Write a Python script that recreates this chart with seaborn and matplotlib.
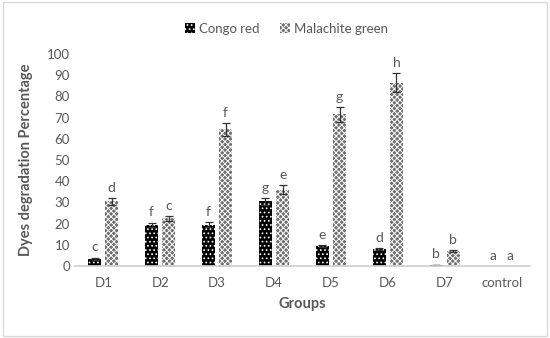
import seaborn as sns
import pandas as pd
import matplotlib.pyplot as plt

# data
groups = ["D1", "D2", "D3", "D4", "D5", "D6", "D7", "control"]
congo_red = [3.5, 19.5, 19.5, 30.5, 9.5, 8.0, 0.5, 0.0]
malachite_green = [30.5, 22.5, 64.5, 36.0, 71.5, 86.5, 7.0, 0.0]
congo_err = [0.5, 1.0, 1.2, 1.5, 0.5, 0.5, 0.2, 0.0]
malachite_err = [1.5, 1.2, 3.0, 2.0, 3.5, 4.5, 0.5, 0.0]
congo_letters = ["c", "f", "f", "g", "e", "d", "b", "a"]
malachite_letters = ["d", "c", "f", "e", "g", "h", "b", "a"]
series = ["Congo red", "Malachite green"]

df = pd.DataFrame({
    "Groups": groups * 2,
    "Dye": [series[0]] * len(groups) + [series[1]] * len(groups),
    "Value": congo_red + malachite_green,
})

sns.set_theme(style="white")
plt.rcParams["font.family"] = ["Lato", "DejaVu Sans"]
plt.rcParams["hatch.linewidth"] = 0.7
grey = "#595959"

fig = plt.figure(figsize=(5.5, 3.38), dpi=100)
ax = fig.add_axes([0.136, 0.213, 0.828, 0.627])

sns.barplot(data=df, x="Groups", y="Value", hue="Dye", order=groups,
            hue_order=series, width=0.6, gap=0.25, palette=["black", "#8c8c8c"],
            errorbar=None, ax=ax, legend=True)

# restyle bars, add error bars and letters
bars = ax.patches[:2 * len(groups)]
errs = congo_err + malachite_err
letters = congo_letters + malachite_letters
vals = congo_red + malachite_green
for i, p in enumerate(bars):
    cx = p.get_x() + p.get_width() / 2
    if i < len(groups):
        p.set_facecolor("black")
        p.set_edgecolor("white")
        p.set_hatch("....")
    else:
        p.set_facecolor("#6f6f6f")
        p.set_edgecolor("white")
        p.set_hatch("xxxxxx")
    p.set_linewidth(0)
    if errs[i] > 0:
        ax.errorbar(cx, vals[i], yerr=errs[i], fmt="none", ecolor="#333333",
                    elinewidth=0.9, capsize=3, capthick=0.9)
    ax.text(cx, vals[i] + errs[i] + 2, letters[i], ha="center", va="bottom",
            fontsize=10, color=grey)

ax.set_ylim(0, 100)
ax.set_yticks(range(0, 101, 10))
ax.set_xlim(-0.5, len(groups) - 0.5)
ax.tick_params(axis="both", length=0, labelsize=9.5, colors=grey)
ax.tick_params(axis="x", pad=8)
for s in ["top", "right", "left"]:
    ax.spines[s].set_visible(False)
ax.spines["bottom"].set_color("#d0d0d0")
ax.set_xlabel("Groups", fontsize=10.5, fontweight="bold", color=grey, labelpad=6)
ax.set_ylabel("Dyes degradation Percentage", fontsize=10.5, fontweight="bold",
              color=grey, labelpad=10)

handles, labels = ax.get_legend_handles_labels()
for h, i in zip(handles, [0, len(groups)]):
    h.set_facecolor(bars[i].get_facecolor())
    h.set_edgecolor(bars[i].get_edgecolor())
    h.set_hatch(bars[i].get_hatch())
    h.set_linewidth(0)
ax.legend(handles, labels, loc="upper center", bbox_to_anchor=(0.5 - 0.035, 1.205),
          ncol=2, frameon=False, fontsize=9.5, labelcolor=grey,
          handlelength=0.8, handleheight=0.8, handletextpad=0.3, columnspacing=1.5)

fig.patches.append(plt.Rectangle((0.005, 0.005), 0.99, 0.99, transform=fig.transFigure,
                                 fill=False, edgecolor="#d9d9d9", linewidth=1))
fig.savefig("out.png", dpi=100)
